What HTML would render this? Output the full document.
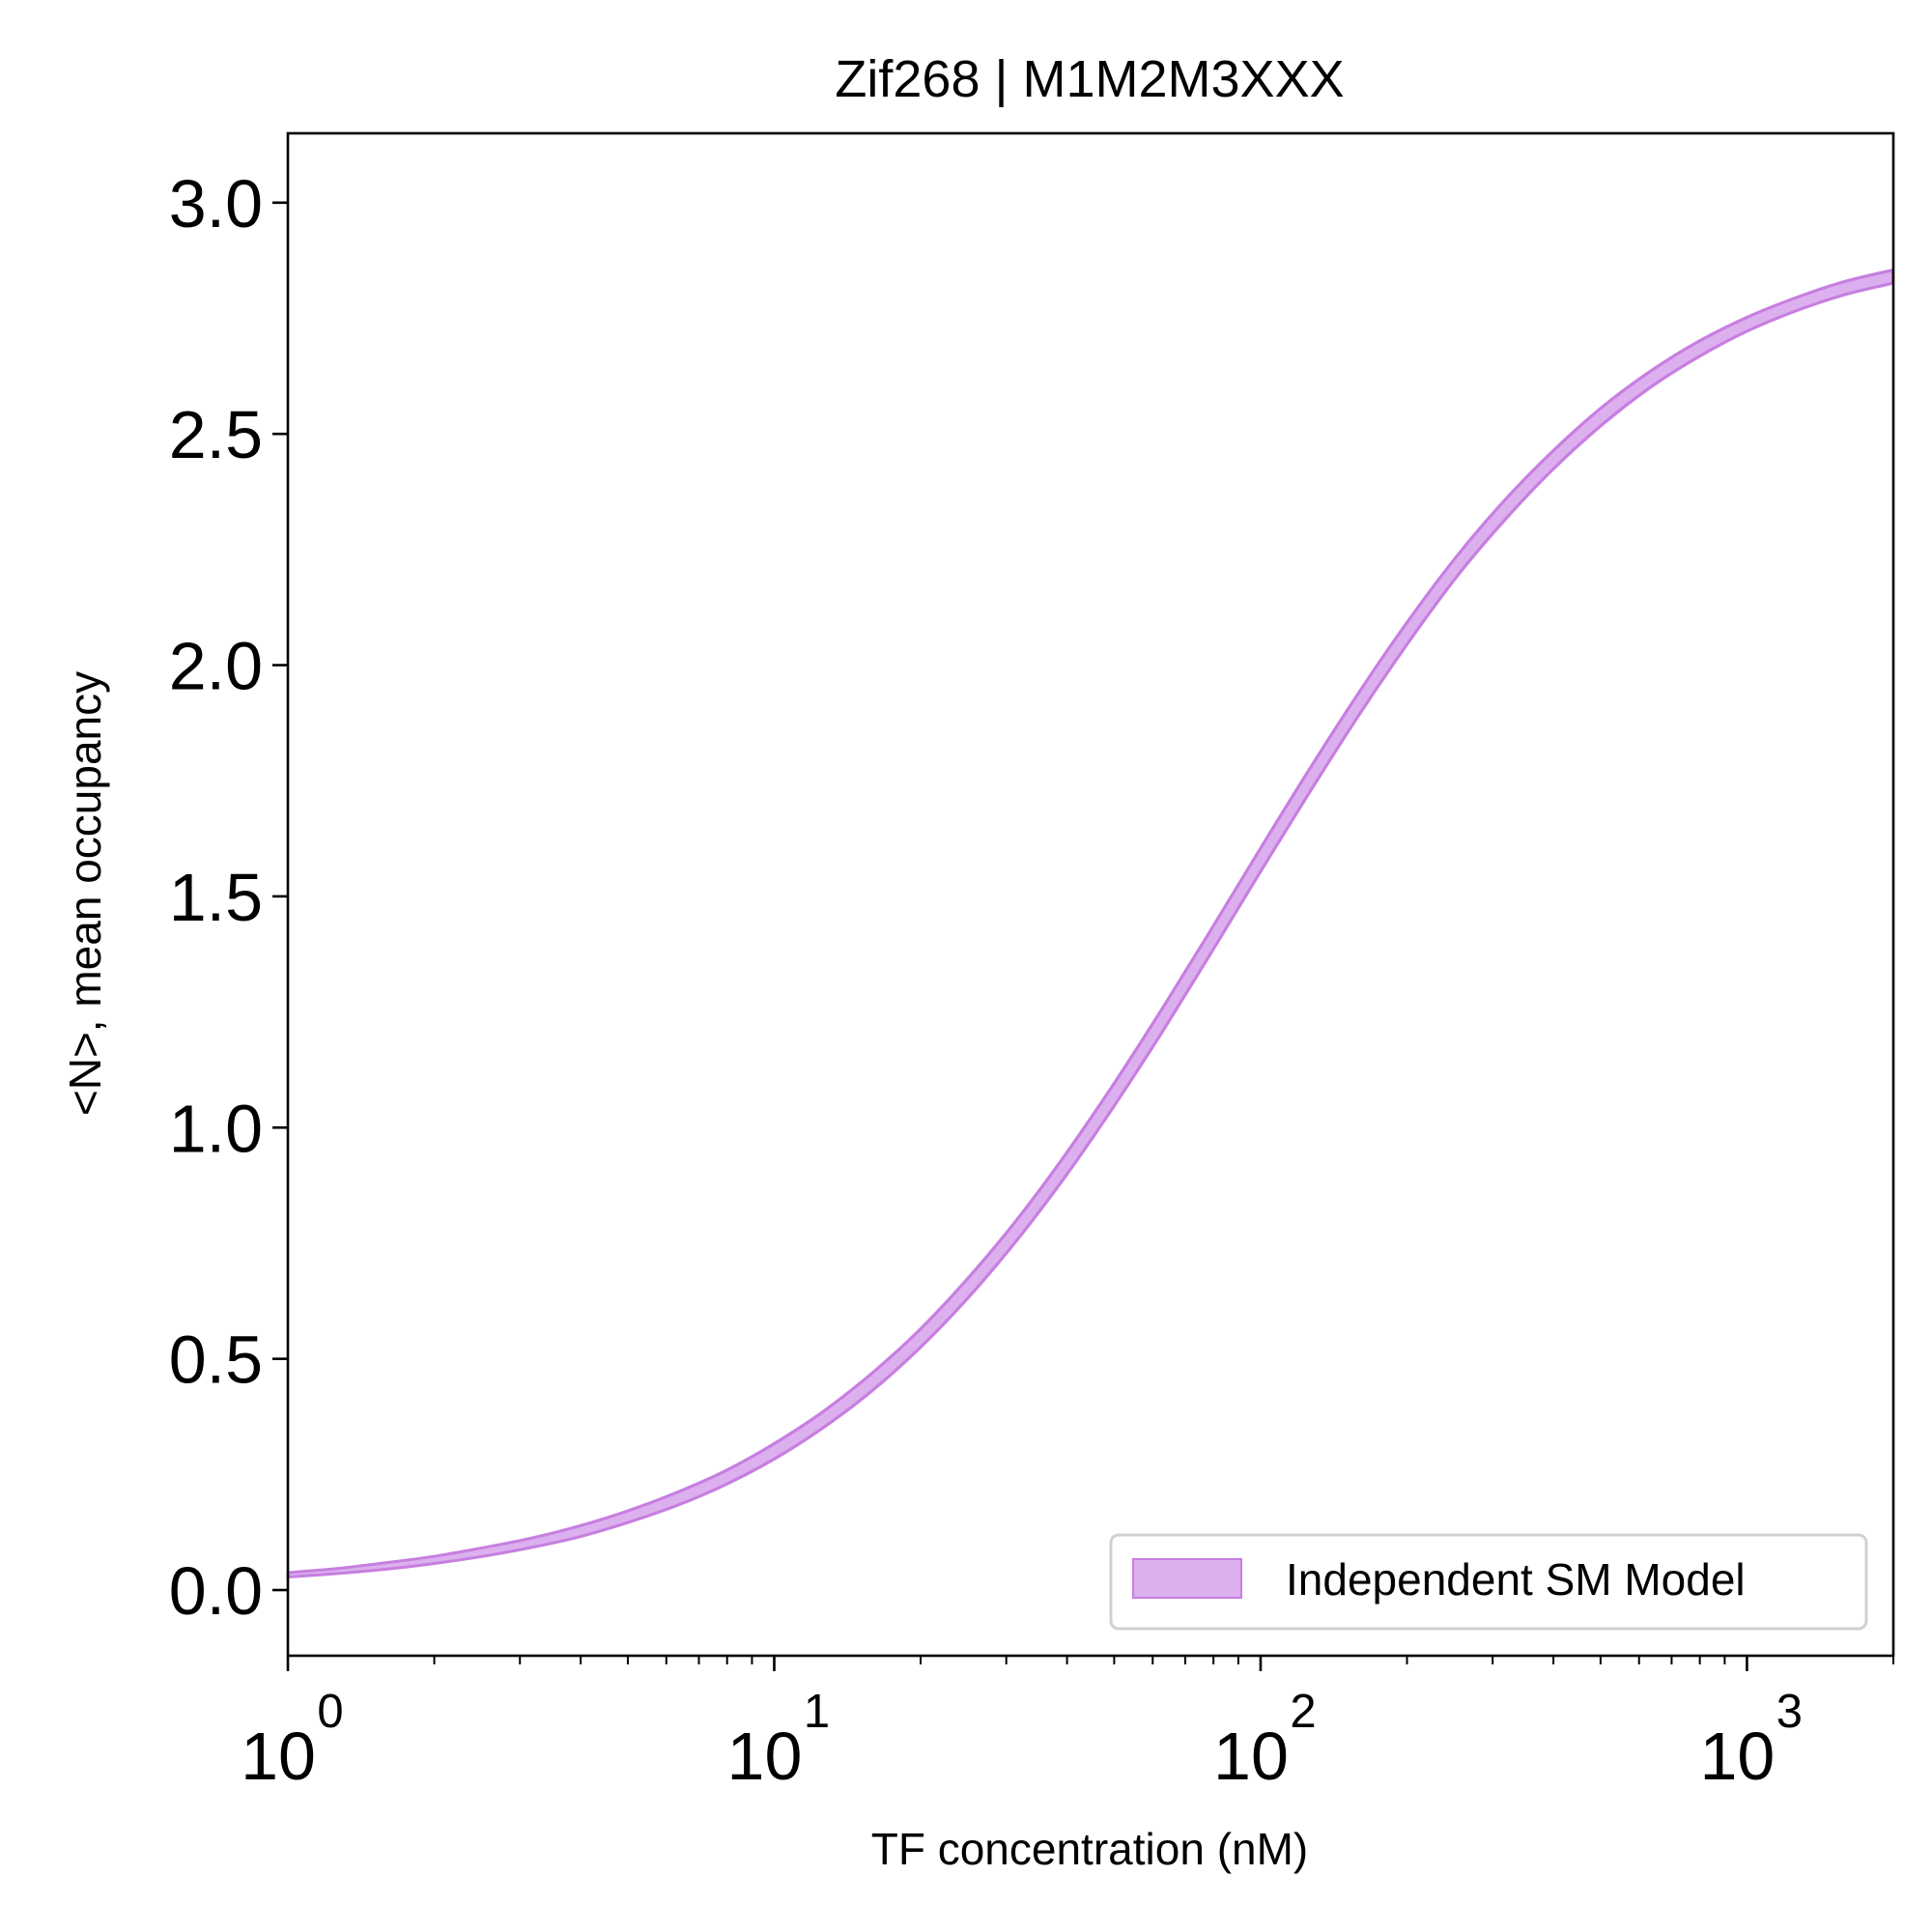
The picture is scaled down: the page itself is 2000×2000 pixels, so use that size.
<!DOCTYPE html>
<html><head><meta charset="utf-8"><style>
html,body{margin:0;padding:0;background:#fff;}
svg{display:block;font-family:"Liberation Sans",Arial,sans-serif;}
</style></head><body>
<svg id="chart" width="2000" height="2000" viewBox="0 0 2000 2000">
<rect x="0" y="0" width="2000" height="2000" fill="#fff"/>
<g id="plot"></g>
<g id="axes"></g>
<text x="1128" y="100" font-size="54" text-anchor="middle">Zif268 | M1M2M3XXX</text>
<text x="1128" y="1930" font-size="46" text-anchor="middle">TF concentration (nM)</text>
<text transform="translate(104,925) rotate(-90)" font-size="46" text-anchor="middle">&lt;N&gt;, mean occupancy</text>
<g>
<rect x="1150" y="1589" width="782" height="97" rx="8" fill="#fff" stroke="#d0d0d0" stroke-width="3"/>
<rect x="1173" y="1614" width="112" height="40" fill="#dcb0ee" stroke="#c77ee0" stroke-width="2"/>
<text x="1331" y="1651" font-size="46">Independent SM Model</text>
</g>
</svg>
<script>
const logX = [0,0.1,0.2,0.3,0.4,0.5,0.6,0.7,0.8,0.9,1.0,1.1,1.2,1.3,1.4,1.5,1.6,1.7,1.8,1.9,2.0,2.1,2.2,2.3,2.4,2.5,2.6,2.7,2.8,2.9,3.0,3.1,3.2,3.3];
const meanN = [0.033,0.041,0.052,0.065,0.082,0.102,0.127,0.159,0.197,0.243,0.300,0.368,0.449,0.544,0.655,0.780,0.920,1.073,1.236,1.406,1.579,1.749,1.913,2.067,2.209,2.333,2.442,2.537,2.617,2.683,2.737,2.780,2.815,2.840];
const halfWidth = [0.006,0.007,0.009,0.010,0.012,0.013,0.015,0.016,0.018,0.019,0.021,0.022,0.024,0.025,0.027,0.028,0.030,0.031,0.032,0.032,0.032,0.032,0.031,0.030,0.028,0.027,0.025,0.024,0.022,0.021,0.019,0.018,0.018,0.018];
const yTicks = [0.0,0.5,1.0,1.5,2.0,2.5,3.0];
const yTickLabels = ["0.0","0.5","1.0","1.5","2.0","2.5","3.0"];
const xDecades = [0,1,2,3];
const xTickLabels = ["0","1","2","3"];

const L=298,R=1960,T=138,B=1714;
const xMin=0,xMax=Math.log10(2000),yMin=-0.142,yMax=3.15;
function sx(lx){return L+(lx-xMin)/(xMax-xMin)*(R-L);}
function sy(v){return B-(v-yMin)/(yMax-yMin)*(B-T);}
const NS="http://www.w3.org/2000/svg";
const plot=document.getElementById('plot'),axes=document.getElementById('axes');

function smooth(pts){
  let d='';
  for(let i=0;i<pts.length;i++){
    if(i===0){d+='M'+pts[0][0].toFixed(1)+','+pts[0][1].toFixed(1);continue;}
    const p0=pts[Math.max(i-2,0)],p1=pts[i-1],p2=pts[i],p3=pts[Math.min(i+1,pts.length-1)];
    const c1=[p1[0]+(p2[0]-p0[0])/6,p1[1]+(p2[1]-p0[1])/6];
    const c2=[p2[0]-(p3[0]-p1[0])/6,p2[1]-(p3[1]-p1[1])/6];
    d+='C'+c1[0].toFixed(1)+','+c1[1].toFixed(1)+' '+c2[0].toFixed(1)+','+c2[1].toFixed(1)+' '+p2[0].toFixed(1)+','+p2[1].toFixed(1);
  }
  return d;
}
function bandPath(f){
  const up=[],lo=[];
  for(let i=0;i<logX.length;i++){up.push([sx(logX[i]),sy(meanN[i]+halfWidth[i]*f)]);lo.push([sx(logX[i]),sy(meanN[i]-halfWidth[i]*f)]);}
  lo.reverse();
  return smooth(up)+' L'+smooth(lo).slice(1)+' Z';
}
const outer=document.createElementNS(NS,'path');
outer.setAttribute('d',bandPath(1));
outer.setAttribute('fill','#e2bcf2');


plot.appendChild(outer);
const band=document.createElementNS(NS,'path');
band.setAttribute('d',bandPath(0.78));
band.setAttribute('fill','#dcb0ee');band.setAttribute('stroke','#c77ee0');band.setAttribute('stroke-width','3');


plot.appendChild(band);

const frame=document.createElementNS(NS,'rect');
frame.setAttribute('x',L);frame.setAttribute('y',T);frame.setAttribute('width',R-L);frame.setAttribute('height',B-T);
frame.setAttribute('fill','none');frame.setAttribute('stroke','#000');frame.setAttribute('stroke-width','2.6');


axes.appendChild(frame);

function line(x1,y1,x2,y2,w){const l=document.createElementNS(NS,'line');l.setAttribute('x1',x1);l.setAttribute('y1',y1);l.setAttribute('x2',x2);l.setAttribute('y2',y2);l.setAttribute('stroke','#000');l.setAttribute('stroke-width',w);axes.appendChild(l);return l;}

yTicks.forEach((v,i)=>{
  const y=sy(v);
  const t=line(L-16,y,L,y,2.6);
  
  
  const tx=document.createElementNS(NS,'text');
  tx.setAttribute('x',L-26);tx.setAttribute('y',y+25);tx.setAttribute('font-size','70');tx.setAttribute('text-anchor','end');
  tx.textContent=yTickLabels[i];
  
  
  axes.appendChild(tx);
});
xDecades.forEach((d,i)=>{
  const x=sx(d);
  const t=line(x,B,x,B+16,2.6);
  
  
  const tx=document.createElementNS(NS,'text');
  tx.setAttribute('x',x-10);tx.setAttribute('y',1842);tx.setAttribute('font-size','70');tx.setAttribute('text-anchor','middle');
  tx.textContent='10';
  
  
  axes.appendChild(tx);
  const ex=document.createElementNS(NS,'text');
  ex.setAttribute('x',x+44);ex.setAttribute('y',1788);ex.setAttribute('font-size','49');ex.setAttribute('text-anchor','middle');
  ex.textContent=xTickLabels[i];
  
  
  axes.appendChild(ex);
  for(let m=2;m<=9;m++){
    const lx=d+Math.log10(m);
    if(lx>xMax)break;
    const mt=line(sx(lx),B,sx(lx),B+9,2);
    
    
  }
});
</script>
</body></html>
